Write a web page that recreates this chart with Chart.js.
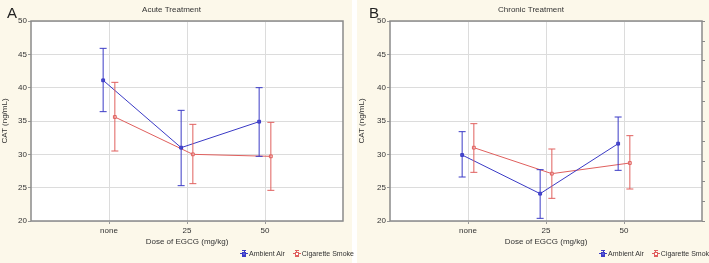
<!DOCTYPE html>
<html>
<head>
<meta charset="utf-8">
<script src="https://cdn.jsdelivr.net/npm/chart.js@4.4.1/dist/chart.umd.min.js"></script>
<style>
  body { margin: 0; background: #fff; font-family: "Liberation Sans", Arial, sans-serif; }
  .panel { position: absolute; top: 0; width: 352px; height: 263px; background: #fcf8ea; }
  .panel canvas { position: absolute; left: 0; top: 0; }
  .letter { position: absolute; top: 4px; font-size: 15px; color: #222; }
  .legend { position: absolute; top: 250px; font-size: 7px; color: #333; white-space: nowrap; }
  .legend .item { display: inline-block; margin-left: 8px; }
  .sym { display: inline-block; position: relative; width: 8px; height: 7px; vertical-align: -1px; margin-right: 1px; }
  .sym i { position: absolute; display: block; }
</style>
</head>
<body>
<div class="panel" style="left:0">
  <canvas id="chartA" width="352" height="263"></canvas>
  <div class="letter" style="left:7px">A</div>
  <div class="legend" style="left:232px" id="legA"></div>
</div>
<div class="panel" style="left:357px">
  <canvas id="chartB" width="352" height="263"></canvas>
  <div class="letter" style="left:12px">B</div>
  <div class="legend" style="left:234px" id="legB"></div>
</div>
<script>
const doses = ['none', '25', '50'];
const seriesNames = ['Ambient Air', 'Cigarette Smoke'];

const acuteAirMean = [41.1, 31.0, 34.9];
const acuteAirLow = [36.4, 25.3, 29.7];
const acuteAirHigh = [45.9, 36.6, 40.0];
const acuteSmokeMean = [35.6, 30.0, 29.7];
const acuteSmokeLow = [30.5, 25.6, 24.6];
const acuteSmokeHigh = [40.8, 34.5, 34.8];

const chronicAirMean = [29.9, 24.1, 31.6];
const chronicAirLow = [26.6, 20.4, 27.6];
const chronicAirHigh = [33.4, 27.7, 35.6];
const chronicSmokeMean = [31.0, 27.1, 28.7];
const chronicSmokeLow = [27.3, 23.4, 24.8];
const chronicSmokeHigh = [34.6, 30.8, 32.8];

const yTicks = [20, 25, 30, 35, 40, 45, 50];

const BLUE = '#3b3bc6';
const RED = '#e0605e';
const DODGE = 0.075;
const FONT = "'Liberation Sans', Arial, sans-serif";

// error bars drawn from the low/high arrays through the y scale
const errorBars = {
  id: 'errorBars',
  afterDatasetsDraw(chart) {
    const ctx = chart.ctx;
    const y = chart.scales.y;
    chart.data.datasets.forEach((ds, i) => {
      const meta = chart.getDatasetMeta(i);
      ctx.save();
      ctx.strokeStyle = ds.borderColor;
      ctx.lineWidth = 1;
      meta.data.forEach((pt, j) => {
        const top = y.getPixelForValue(ds.high[j]);
        const bot = y.getPixelForValue(ds.low[j]);
        ctx.beginPath();
        ctx.moveTo(pt.x, top);
        ctx.lineTo(pt.x, bot);
        ctx.moveTo(pt.x - 3.5, top);
        ctx.lineTo(pt.x + 3.5, top);
        ctx.moveTo(pt.x - 3.5, bot);
        ctx.lineTo(pt.x + 3.5, bot);
        ctx.stroke();
      });
      ctx.restore();
    });
  }
};

const frame = {
  id: 'frame',
  beforeDraw(chart) {
    const a = chart.chartArea;
    chart.ctx.save();
    chart.ctx.fillStyle = '#fff';
    chart.ctx.fillRect(a.left, a.top, a.width, a.height);
    chart.ctx.restore();
  },
  afterDraw(chart) {
    const a = chart.chartArea;
    const ctx = chart.ctx;
    ctx.save();
    ctx.strokeStyle = '#8a8a8a';
    ctx.lineWidth = 1.5;
    ctx.strokeRect(a.left, a.top, a.width, a.height);
    ctx.restore();
  }
};

function makeData(means, offset) {
  return means.map((m, i) => ({ x: i + 1 + offset, y: m }));
}

function buildChart(id, title, air, smoke, yWidth, rightTicks) {
  const scales = {
    x: {
      type: 'linear', min: 0, max: 4,
      afterBuildTicks: (s) => { s.ticks = doses.map((d, i) => ({ value: i + 1 })); },
      afterFit: (s) => { s.height = 42; },
      ticks: { callback: (v) => doses[v - 1], color: '#333', font: { size: 8, family: FONT }, padding: 2, maxRotation: 0 },
      grid: { color: '#dcdcdc', tickLength: 3, tickColor: '#999' },
      border: { display: false },
      title: { display: true, text: 'Dose of EGCG (mg/kg)', color: '#333', font: { size: 8, family: FONT }, padding: { top: 0, bottom: 16 } }
    },
    y: {
      min: 20, max: 50,
      afterBuildTicks: (s) => { s.ticks = yTicks.map(v => ({ value: v })); },
      afterFit: (s) => { s.width = yWidth; },
      ticks: { color: '#333', font: { size: 8, family: FONT }, padding: 1 },
      grid: { color: '#dcdcdc', tickLength: 3, tickColor: '#999' },
      border: { display: false },
      title: { display: true, text: 'CAT (ng/mL)', color: '#333', font: { size: 8, family: FONT }, padding: 0 }
    }
  };
  if (rightTicks) {
    scales.y2 = {
      position: 'right', min: 20, max: 50,
      ticks: { display: false, stepSize: 3 },
      grid: { drawOnChartArea: false, tickLength: 3, tickColor: '#888' },
      border: { display: false },
      afterFit: (s) => { s.width = 3; }
    };
  }
  return new Chart(document.getElementById(id), {
    type: 'line',
    data: {
      datasets: [
        {
          label: seriesNames[0], data: makeData(air[0], -DODGE),
          low: air[1], high: air[2],
          borderColor: BLUE, backgroundColor: BLUE, borderWidth: 1,
          pointStyle: 'rect', pointRadius: 2, pointBorderWidth: 1, pointBackgroundColor: '#5a5ad8'
        },
        {
          label: seriesNames[1], data: makeData(smoke[0], DODGE),
          low: smoke[1], high: smoke[2],
          borderColor: RED, backgroundColor: RED, borderWidth: 1,
          pointStyle: 'rect', pointRadius: 2, pointBorderWidth: 1, pointBackgroundColor: '#fff'
        }
      ]
    },
    options: {
      responsive: false,
      animation: false,
      layout: { padding: { left: 0, right: rightTicks ? 4 : 9, top: 0, bottom: 0 } },
      plugins: {
        legend: { display: false },
        tooltip: { enabled: false },
        title: { display: true, text: title, color: '#333', font: { size: 8, weight: 'normal', family: FONT }, padding: { top: 5, bottom: 6.4 } }
      },
      scales: scales
    },
    plugins: [frame, errorBars]
  });
}

function buildLegend(id) {
  const colors = [BLUE, RED];
  const fills = ['#5a5ad8', '#fff'];
  let html = '';
  seriesNames.forEach((name, i) => {
    const c = colors[i];
    html += `<span class="item"><span class="sym">
      <i style="left:0;top:3px;width:8px;height:1px;background:${c}"></i>
      <i style="left:3.5px;top:0;width:1px;height:7px;background:${c}"></i>
      <i style="left:2px;top:0;width:4px;height:1px;background:${c}"></i>
      <i style="left:2px;top:6px;width:4px;height:1px;background:${c}"></i>
      <i style="left:2px;top:2px;width:2px;height:2px;border:1px solid ${c};background:${fills[i]}"></i>
    </span>${name}</span>`;
  });
  document.getElementById(id).innerHTML = html;
}

buildChart('chartA', 'Acute Treatment',
  [acuteAirMean, acuteAirLow, acuteAirHigh],
  [acuteSmokeMean, acuteSmokeLow, acuteSmokeHigh], 31, false);
buildChart('chartB', 'Chronic Treatment',
  [chronicAirMean, chronicAirLow, chronicAirHigh],
  [chronicSmokeMean, chronicSmokeLow, chronicSmokeHigh], 33, true);
buildLegend('legA');
buildLegend('legB');
</script>
</body>
</html>
